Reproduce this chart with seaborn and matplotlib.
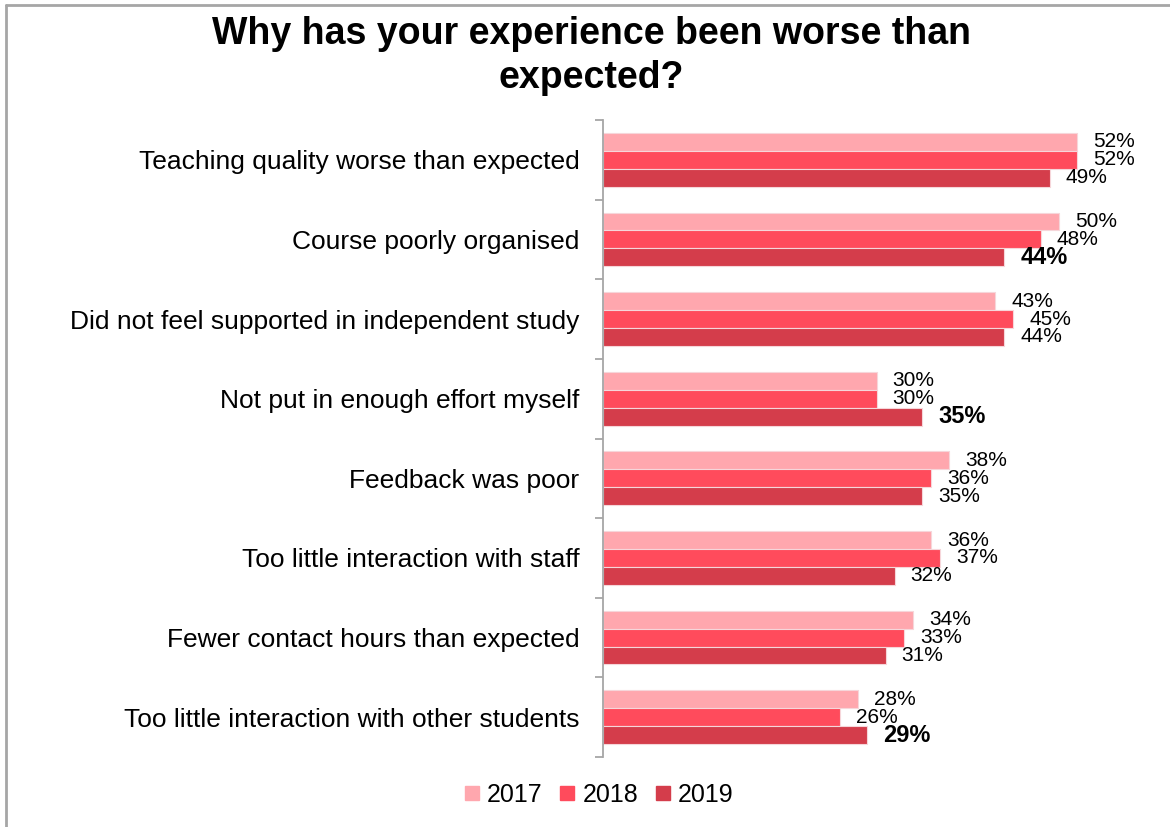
import matplotlib
matplotlib.use("Agg")
import matplotlib.pyplot as plt
from matplotlib.lines import Line2D
import seaborn as sns
import pandas as pd

categories = [
    "Teaching quality worse than expected",
    "Course poorly organised",
    "Did not feel supported in independent study",
    "Not put in enough effort myself",
    "Feedback was poor",
    "Too little interaction with staff",
    "Fewer contact hours than expected",
    "Too little interaction with other students",
]
years = ["2017", "2018", "2019"]
v2017 = [52, 50, 43, 30, 38, 36, 34, 28]
v2018 = [52, 48, 45, 30, 36, 37, 33, 26]
v2019 = [49, 44, 44, 35, 35, 32, 31, 29]
bold_2019 = [False, True, False, True, False, False, False, True]
colors = ["#FFA7AE", "#FF4B5C", "#D43D4B"]
title = "Why has your experience been worse than\nexpected?"

rows = []
for y, vals in zip(years, [v2017, v2018, v2019]):
    for c, v in zip(categories, vals):
        rows.append({"category": c, "year": y, "value": v})
df = pd.DataFrame(rows)

sns.set_theme(style="white")
plt.rcParams["font.family"] = ["Liberation Sans", "DejaVu Sans"]
plt.rcParams["text.color"] = "black"

fig = plt.figure(figsize=(11.7, 8.27), dpi=100)
ax = fig.add_axes([603 / 1170, 1 - 757 / 827, (1150 - 603) / 1170, (757 - 120) / 827])

sns.barplot(data=df, y="category", x="value", hue="year", order=categories,
            hue_order=years, palette=colors, orient="h", width=0.675, saturation=1,
            edgecolor="#F6D6DA", linewidth=0.8, ax=ax, legend=False)

ax.set_xlim(0, 60)
ax.set_ylim(len(categories) - 0.5, -0.5)
ax.set_xlabel("")
ax.set_ylabel("")
ax.set_xticks([])
for s in ["top", "right", "bottom"]:
    ax.spines[s].set_visible(False)
ax.spines["left"].set_color("#A6A6A6")
ax.spines["left"].set_linewidth(1.3)
ax.tick_params(axis="y", which="major", length=0, pad=17, labelsize=19, labelcolor="black")
ax.set_yticks([i - 0.5 for i in range(len(categories) + 1)], minor=True)
ax.tick_params(axis="y", which="minor", left=True, length=6, width=1.3,
               color="#A6A6A6", direction="out")

for yi, cont in enumerate(ax.containers):
    for ci, bar in enumerate(cont.patches):
        w = bar.get_width()
        yc = bar.get_y() + bar.get_height() / 2
        is_bold = (yi == 2 and bold_2019[ci])
        ax.annotate(f"{int(round(w))}%", (w, yc), xytext=(16, 0),
                    textcoords="offset pixels", va="center", ha="left",
                    fontsize=17 if is_bold else 15,
                    fontweight="bold" if is_bold else "normal", color="black",
                    annotation_clip=False)

fig.text(591 / 1170, 1 - 56 / 827, title, ha="center", va="center",
         fontsize=27, fontweight="bold", linespacing=1.25, color="black")

handles = [Line2D([0], [0], marker="s", linestyle="", markersize=10,
                  markerfacecolor=c, markeredgecolor=c) for c in colors]
fig.legend(handles, years, loc="center", bbox_to_anchor=(597 / 1170, 1 - 795 / 827),
           ncol=3, frameon=False, fontsize=18, handletextpad=0.15, columnspacing=0.55,
           handlelength=0.9, labelcolor="black")

fig.add_artist(Line2D([6 / 1170, 1], [1 - 5 / 827, 1 - 5 / 827], transform=fig.transFigure,
                      color="#A6A6A6", linewidth=2))
fig.add_artist(Line2D([6 / 1170, 6 / 1170], [0, 1 - 5 / 827], transform=fig.transFigure,
                      color="#A6A6A6", linewidth=2))

fig.savefig("out.png", dpi=100, facecolor="white")
